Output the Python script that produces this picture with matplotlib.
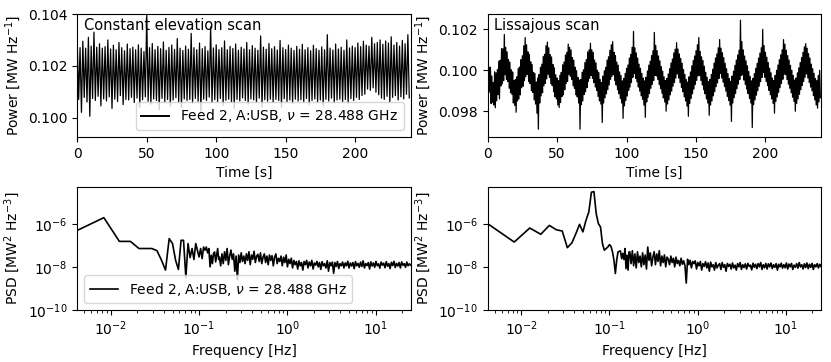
import numpy as np
import matplotlib.pyplot as plt
from matplotlib.ticker import NullLocator, FixedLocator

label = r'Feed 2, A:USB, $\nu$ = 28.488 GHz'

# time streams: upper / lower excursion in each time bin, units of 1e-5 MW/Hz
ces_dt = 2.0
ces_hi = [10282, 10270, 10295, 10268, 10310, 10276, 10330, 10272, 10285, 10268,
          10274, 10300, 10265, 10279, 10262, 10290, 10270, 10258, 10284, 10266,
          10272, 10262, 10281, 10268, 10255, 10395, 10270, 10286, 10262, 10275,
          10266, 10292, 10260, 10271, 10280, 10263, 10305, 10268, 10259, 10276,
          10264, 10325, 10270, 10262, 10288, 10266, 10274, 10258, 10350, 10269,
          10281, 10263, 10270, 10296, 10262, 10275, 10267, 10284, 10260, 10272,
          10265, 10290, 10262, 10278, 10268, 10260, 10315, 10272, 10264, 10286,
          10266, 10274, 10261, 10298, 10270, 10263, 10280, 10268, 10259, 10275,
          10264, 10283, 10262, 10270, 10258, 10279, 10266, 10260, 10273, 10262,
          10320, 10268, 10261, 10284, 10265, 10272, 10260, 10300, 10269, 10276,
          10270, 10288, 10274, 10295, 10280, 10276, 10310, 10285, 10290, 10300,
          10283, 10296, 10288, 10312, 10280, 10290, 10276, 10298, 10285, 10320]
ces_lo = [10070, 10020, 10078, 10060, 10005, 10074, 10066, 10082, 10045, 10072,
          10064, 10080, 10035, 10071, 10062, 10085, 10050, 10070, 10068, 10078,
          10058, 10075, 10040, 10069, 10080, 10063, 10052, 10072, 10066, 10030,
          10074, 10061, 10070, 10045, 10068, 10077, 10060, 10038, 10072, 10066,
          10070, 10056, 10074, 10063, 10025, 10071, 10066, 10079, 10058, 10069,
          10062, 10074, 10048, 10067, 10071, 10060, 10035, 10070, 10064, 10076,
          10066, 10052, 10072, 10068, 10060, 10075, 10042, 10069, 10063, 10071,
          10058, 10070, 10066, 10040, 10073, 10062, 10068, 10055, 10071, 10064,
          10069, 10060, 10074, 10050, 10066, 10072, 10061, 10068, 10045, 10070,
          10064, 10075, 10058, 10068, 10071, 10062, 10070, 10055, 10073, 10066,
          10078, 10070, 10085, 10090, 10110, 10105, 10115, 10098, 10088, 10075,
          10070, 10082, 10060, 10078, 10085, 10068, 10080, 10072, 10090, 10076]

liss_dt = 1.0
liss_hi = [10053, 10016, 10015, 9972, 9940, 9993, 9988, 10004, 10044, 10049, 10106, 10105,
           10175, 10112, 10090, 10052, 10040, 10003, 9992, 9950, 9955, 9968, 10010, 10016,
           10052, 10071, 10120, 10160, 10125, 10090, 10078, 10041, 10028, 9990, 9985, 9943,
           9962, 9979, 10015, 10030, 10068, 10078, 10120,
           10138, 10110, 10076, 10065, 10028, 10012, 9978, 9962, 9950, 9975, 9990, 10027,
           10040, 10075, 10088, 10128, 10112, 10100, 10062, 10050, 10015, 9998, 9965, 9952,
           9955, 9990, 10002, 10038, 10052, 10090, 10100,
           10132, 10100, 10088, 10050, 10036, 10000, 9990, 9955, 9940, 9972, 9998, 10015,
           10050, 10066, 10098, 10125, 10140, 10088, 10072, 10040, 10025, 9992, 9975, 9948,
           9960, 9985, 10010, 10026, 10060, 10078, 10112,
           10190, 10110, 10085, 10060, 10030, 10010, 9985, 9962, 9948, 9966, 9997, 10025,
           10044, 10072, 10095, 10185, 10122, 10096, 10070, 10046, 10018, 9996, 9968, 9950,
           9960, 9982, 10008, 10036, 10055, 10085, 10103,
           10135, 10104, 10080, 10058, 10035, 10004, 9980, 9955, 9942, 9968, 9992, 10022,
           10048, 10070, 10096, 10125, 10160, 10092, 10066, 10048, 10020, 9990, 9966, 9944,
           9955, 9980, 10005, 10035, 10060, 10080, 10110,
           10150, 10108, 10086, 10062, 10034, 10008, 9984, 9960, 9946, 9972, 9996, 10024,
           10050, 10075, 10098, 10245, 10140, 10100, 10070, 10046, 10022, 9994, 9970, 9948,
           9960, 9984, 10010, 10034, 10060, 10084, 10110,
           10200, 10120, 10088, 10064, 10038, 10010, 9988, 9962, 9950, 9975, 10000, 10026,
           10052, 10076, 10100, 10150, 10128, 10098, 10072, 10050, 10024, 10000, 9975, 9952,
           9962, 9988, 10012, 10038, 10062, 10088, 10115,
           10130, 10108, 10082, 10060, 10030, 10008, 9985, 9960, 9950, 9975, 10000]
liss_lo = [9900, 9893, 9837, 9844, 9830, 9817, 9851, 9881, 9860, 9923, 9934, 9949,
           9978, 9955, 9945, 9912, 9890, 9882, 9840, 9828, 9795, 9850, 9860, 9880,
           9915, 9922, 9950, 9968, 9980, 9945, 9935, 9900, 9892, 9855, 9835, 9790,
           9712, 9840, 9875, 9890, 9924, 9936, 9958,
           9980, 9966, 9935, 9925, 9895, 9870, 9860, 9830, 9818, 9842, 9872, 9880,
           9905, 9935, 9946, 9978, 9970, 9956, 9925, 9912, 9880, 9870, 9840, 9712,
           9832, 9850, 9882, 9895, 9915, 9945, 9960,
           9975, 9960, 9940, 9918, 9902, 9872, 9850, 9835, 9745, 9840, 9865, 9885,
           9905, 9928, 9955, 9970, 9978, 9950, 9928, 9905, 9885, 9862, 9840, 9765,
           9826, 9852, 9874, 9902, 9918, 9940, 9965,
           9985, 9960, 9944, 9918, 9898, 9875, 9858, 9830, 9770, 9845, 9868, 9886,
           9912, 9930, 9950, 9975, 9972, 9955, 9930, 9910, 9888, 9865, 9845, 9800,
           9835, 9855, 9880, 9898, 9922, 9940, 9962,
           9982, 9962, 9940, 9916, 9895, 9870, 9850, 9825, 9775, 9838, 9862, 9885,
           9908, 9930, 9950, 9972, 9975, 9950, 9928, 9905, 9885, 9860, 9840, 9780,
           9830, 9850, 9875, 9895, 9920, 9938, 9960,
           9985, 9962, 9942, 9920, 9898, 9872, 9852, 9830, 9750, 9840, 9866, 9886,
           9910, 9932, 9955, 9975, 9978, 9952, 9930, 9908, 9886, 9862, 9840, 9720,
           9832, 9855, 9878, 9900, 9922, 9944, 9965,
           9988, 9966, 9945, 9925, 9902, 9880, 9860, 9838, 9790, 9848, 9870, 9892,
           9915, 9935, 9956, 9980, 9978, 9955, 9932, 9912, 9890, 9868, 9848, 9800,
           9838, 9860, 9882, 9905, 9925, 9945, 9965,
           9982, 9962, 9940, 9918, 9900, 9876, 9855, 9830, 9815, 9845, 9866]

# PSD as log10 values: first 40 FFT bins (k/240 Hz), then a thinned tail up to 25 Hz
psd_df = 1.0 / 240
ces_psd_low = [-6.31, -5.72, -6.82, -6.82, -7.15, -7.15, -7.15, -7.25, -7.69, -8.15,
               -6.69, -6.92, -7.69, -8.12, -6.77, -6.77, -8.49, -6.92, -7.57, -7.15,
               -7.66, -6.92, -7.23, -7.54, -7.15, -7.62, -7.08, -7.23, -7.08, -7.35,
               -7.15, -8.00, -7.46, -7.85, -7.38, -7.31, -7.77, -7.46, -7.15, -7.66]
liss_psd_low = [-6.00, -6.85, -6.20, -6.49, -6.08, -6.28, -6.34, -7.11, -6.89, -6.46,
                -6.03, -6.38, -5.85, -5.46, -4.54, -4.51, -5.54, -6.00, -6.15, -6.92,
                -7.23, -7.15, -7.08, -6.97, -7.05, -7.31, -7.69, -8.31, -7.69, -7.31,
                -7.28, -7.26, -7.62, -7.38, -7.66, -7.15, -8.08, -7.46, -8.15, -7.31]
tail_fmin, tail_fmax = 0.17, 25.0
ces_psd_tail = [-7.55, -7.95, -7.40, -7.85, -7.30, -7.70, -7.15, -7.90, -7.50, -7.22,
                -7.65, -7.40, -8.20, -7.50, -8.60, -7.45, -7.80, -7.35, -7.75, -7.50,
                -7.85, -7.40, -7.70, -7.30, -7.90, -7.45, -7.65, -7.28, -7.80, -7.50,
                -7.42, -7.75, -7.35, -7.85, -7.55, -7.40, -7.80, -7.50, -7.90, -7.45,
                -7.70, -7.48, -7.95, -7.55, -7.40, -7.85, -7.60, -7.75, -7.50, -7.95,
                -7.55, -7.80, -7.45, -8.00, -7.65, -7.85, -7.60, -8.05, -7.70, -7.90,
                -7.75, -8.10, -7.72, -7.95, -7.80, -8.15, -7.75, -7.90, -7.70, -8.05,
                -7.78, -7.95, -7.70, -8.10, -7.82, -7.92, -7.75, -8.00, -7.80, -8.12,
                -7.76, -7.95, -7.85, -8.05, -7.72, -8.20, -7.80, -7.95, -7.78, -8.30,
                -7.80, -7.98, -7.75, -8.08, -7.85, -7.95, -7.78, -8.05, -7.82, -7.95,
                -7.74, -8.05, -7.82, -7.96, -7.80, -8.08, -7.76, -7.95, -7.84, -8.02,
                -7.78, -7.98, -7.72, -8.05, -7.85, -7.94, -7.80, -8.10, -7.77, -7.96,
                -7.82, -8.02, -7.75, -7.95, -7.86, -8.06, -7.78, -7.92, -7.83, -8.04,
                -7.76, -7.97, -7.85, -8.08, -7.79, -7.94, -7.74, -8.03, -7.84, -7.96,
                -7.80, -8.05, -7.77, -7.93, -7.85, -8.02, -7.78, -7.95, -7.86, -7.92]
liss_psd_tail = [-7.30, -7.85, -7.25, -7.95, -7.40, -8.05, -7.30, -7.80, -7.50, -8.00,
                 -7.35, -7.90, -7.45, -8.10, -7.08, -7.70, -7.35, -7.95, -7.55, -7.30,
                 -7.90, -7.40, -7.75, -7.25, -7.95, -7.50, -7.80, -7.45, -8.00, -7.55,
                 -7.65, -7.90, -7.50, -7.80, -7.60, -8.00, -7.55, -7.85, -7.70, -7.95,
                 -7.60, -7.88, -7.72, -7.95, -8.75, -7.65, -7.90, -7.70, -8.05, -7.75,
                 -7.85, -7.72, -8.10, -7.80, -7.95, -7.75, -8.15, -7.85, -7.98, -7.76,
                 -8.05, -7.82, -8.20, -7.78, -8.00, -7.90, -8.15, -7.80, -8.05, -7.92,
                 -7.85, -8.12, -7.80, -8.02, -7.90, -8.20, -7.84, -7.98, -7.88, -8.10,
                 -7.82, -8.05, -7.92, -8.15, -7.85, -8.00, -7.80, -8.12, -7.90, -8.03,
                 -7.86, -8.10, -7.84, -7.98, -7.92, -8.14, -7.83, -8.02, -7.88, -8.08,
                 -7.85, -8.00, -7.80, -8.12, -7.90, -8.04, -7.84, -8.10, -7.86, -8.00,
                 -7.82, -8.08, -7.90, -8.02, -7.85, -8.15, -7.88, -8.00, -7.83, -8.06,
                 -7.90, -8.04, -7.82, -8.10, -7.87, -8.00, -7.84, -8.12, -7.92, -8.02,
                 -7.85, -8.06, -7.80, -8.00, -7.90, -8.10, -7.86, -8.03, -7.82, -8.08,
                 -7.88, -8.02, -7.84, -8.12, -7.90, -8.00, -7.85, -8.05, -7.88, -7.98]


def zigzag(dt, hi, lo):
    # alternate between the upper and lower excursion of each bin
    t = np.arange(len(hi)) * dt
    x = np.column_stack([t, t + dt / 2]).ravel()
    y = np.column_stack([hi, lo]).ravel() * 1e-5
    return x, y


def spectrum(low, tail):
    f = np.concatenate([np.arange(1, len(low) + 1) * psd_df,
                        np.geomspace(tail_fmin, tail_fmax, len(tail))])
    return f, 10.0 ** np.concatenate([low, tail])


plt.rcParams['font.size'] = 10
fig, axes = plt.subplots(2, 2, figsize=(8.31, 3.62), dpi=100)
fig.subplots_adjust(left=0.093, right=0.988, bottom=0.1436, top=0.9613,
                    wspace=0.231, hspace=0.407)

# time streams
ax = axes[0, 0]
x, y = zigzag(ces_dt, ces_hi, ces_lo)
ax.plot(x, y, color='k', lw=0.9, label=label)
ax.set_xlim(0, 240)
ax.set_ylim(0.09925, 0.1040)
ax.set_yticks([0.100, 0.102, 0.104])
ax.set_xlabel('Time [s]')
ax.set_ylabel(r'Power [MW Hz$^{-1}$]')
ax.text(0.02, 0.97, 'Constant elevation scan', transform=ax.transAxes, va='top',
        fontsize=10.5)
leg = ax.legend(loc='lower right', handlelength=2.0)
leg.get_lines()[0].set_linewidth(1.4)

ax = axes[0, 1]
x, y = zigzag(liss_dt, liss_hi, liss_lo)
ax.plot(x, y, color='k', lw=0.9)
ax.set_xlim(0, 240)
ax.set_ylim(0.09674, 0.10275)
ax.set_yticks([0.098, 0.100, 0.102])
ax.set_xlabel('Time [s]')
ax.set_ylabel(r'Power [MW Hz$^{-1}$]')
ax.text(0.02, 0.97, 'Lissajous scan', transform=ax.transAxes, va='top',
        fontsize=10.5)

# power spectra
for ax, low, tail in [(axes[1, 0], ces_psd_low, ces_psd_tail),
                      (axes[1, 1], liss_psd_low, liss_psd_tail)]:
    f, p = spectrum(low, tail)
    ax.loglog(f, p, color='k', lw=1.2, label=label)
    ax.set_xlim(psd_df, tail_fmax)
    ax.set_ylim(1e-10, 5e-5)
    ax.yaxis.set_major_locator(FixedLocator([1e-10, 1e-8, 1e-6]))
    ax.yaxis.set_minor_locator(NullLocator())
    ax.set_xlabel('Frequency [Hz]')
    ax.set_ylabel(r'PSD [MW$^2$ Hz$^{-3}$]')

axes[1, 0].legend(loc='lower left')

fig.savefig('out.png')
